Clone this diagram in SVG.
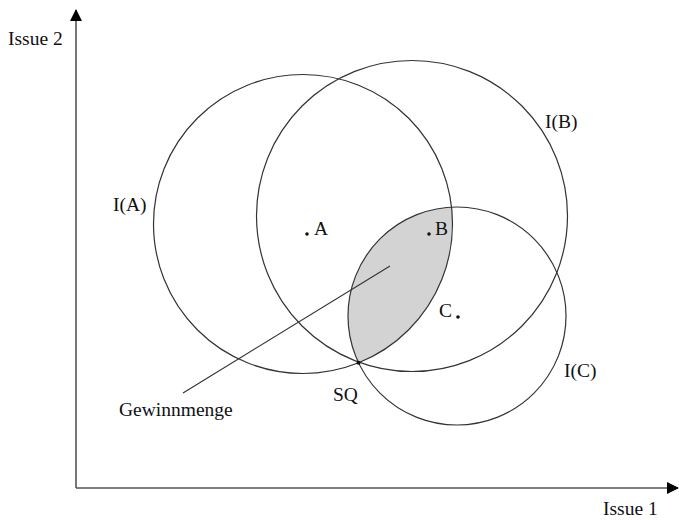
<svg xmlns="http://www.w3.org/2000/svg" width="679" height="520" viewBox="0 0 679 520">
<style>
.t{font-family:"Liberation Serif","Times New Roman",serif;font-size:19.5px;fill:#111}
.c{fill:none;stroke:#333;stroke-width:1.2}
.ax{stroke:#555;stroke-width:1.6;fill:none}
.ld{stroke:#333;stroke-width:1.1;fill:none}
.dot{fill:#111}
</style>
<defs>
<marker id="arr" viewBox="0 0 12 12" refX="11" refY="6" markerWidth="12" markerHeight="12" markerUnits="userSpaceOnUse" orient="auto">
<path d="M0,0 L12,6 L0,12 Z" fill="#000"/>
</marker>
</defs>
<rect width="679" height="520" fill="#fff"/>
<g id="axes">
<line class="ax" x1="76" y1="488" x2="76" y2="10" marker-end="url(#arr)"/>
<line class="ax" x1="76" y1="488" x2="678" y2="488" marker-end="url(#arr)"/>
<text class="t" x="8" y="45">Issue 2</text>
<text class="t" x="603" y="515">Issue 1</text>
</g>
<g id="winset">
<path d="M358.55,362.78 A109,109 0 0 1 451.53,207.14 A149.5,149.5 0 0 1 358.55,362.78 Z" fill="#d3d3d3" stroke="none"/>
</g>
<g id="IA">
<circle class="c" cx="303" cy="224" r="149.5"/>
<text class="t" x="113" y="211">I(A)</text>
</g>
<g id="IB">
<circle class="c" cx="412" cy="216" r="155.5"/>
<text class="t" x="545" y="128">I(B)</text>
</g>
<g id="IC">
<circle class="c" cx="457" cy="316" r="109"/>
<text class="t" x="564" y="377">I(C)</text>
</g>
<g id="A">
<circle class="dot" cx="307" cy="234" r="1.8"/>
<text class="t" x="314" y="235">A</text>
</g>
<g id="B">
<circle class="dot" cx="429" cy="234" r="1.8"/>
<text class="t" x="435" y="235">B</text>
</g>
<g id="C">
<circle class="dot" cx="458" cy="317" r="1.8"/>
<text class="t" x="439" y="317">C</text>
</g>
<g id="SQ">
<circle class="dot" cx="358.5" cy="362.8" r="2"/>
<text class="t" x="333" y="401">SQ</text>
</g>
<g id="connectors">
<line class="ld" x1="183" y1="393" x2="390" y2="266"/>
</g>
<g id="Gewinnmenge">
<text class="t" x="119" y="416">Gewinnmenge</text>
</g>
</svg>
